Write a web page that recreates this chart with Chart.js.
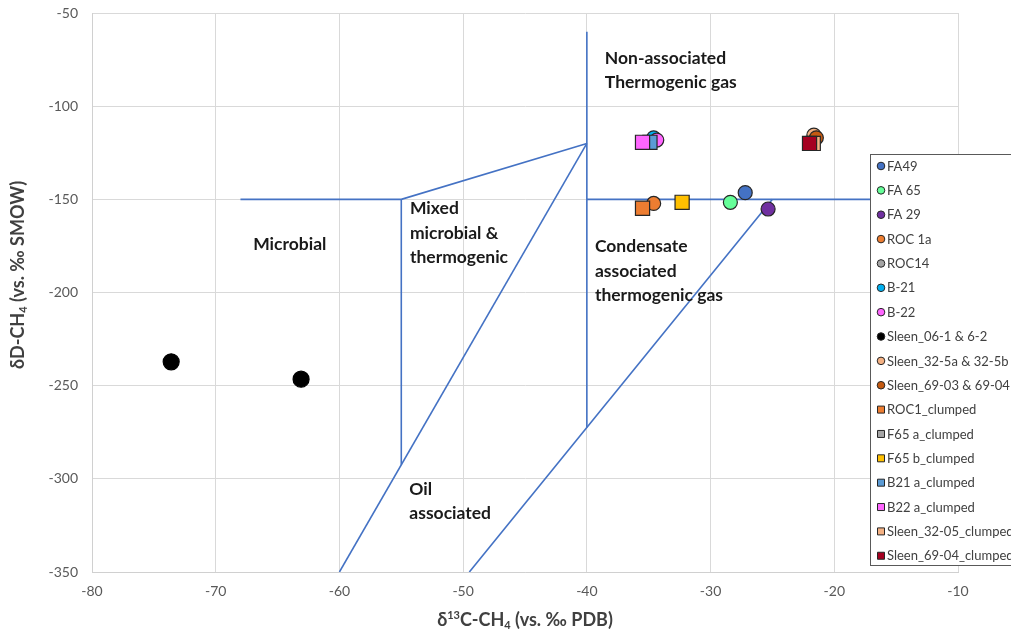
<!DOCTYPE html>
<html>
<head>
<meta charset="utf-8">
<script src="https://cdn.jsdelivr.net/npm/chart.js@4.4.1/dist/chart.umd.min.js"></script>
<style>
html, body { margin: 0; padding: 0; background: #fff; }
#wrap { width: 1011px; height: 635px; }
</style>
</head>
<body>
<div id="wrap"><canvas id="canvas" width="1011" height="635"></canvas></div>
<script>

// sample series: d13C (x) and dD (y) values, one entry per point
const seriesNames = ['FA49', 'FA 65', 'FA 29', 'ROC 1a', 'ROC14', 'B-21', 'B-22',
	'Sleen_06-1 & 6-2', 'Sleen_32-5a & 32-5b', 'Sleen_69-03 & 69-04',
	'ROC1_clumped', 'F65 a_clumped', 'F65 b_clumped', 'B21 a_clumped',
	'B22 a_clumped', 'Sleen_32-05_clumped', 'Sleen_69-04_clumped'];
const seriesD13C = [[-27.2], [-28.4], [-25.35], [-34.6], [], [-34.6], [-34.35],
	[-73.6, -63.1], [-21.65], [-21.45],
	[-35.5], [], [-32.3], [-34.9], [-35.5], [-21.7], [-22.0]];
const seriesDD = [[-146.4], [-151.6], [-155.2], [-152.2], [], [-117], [-118.2],
	[-237.2, -246.5], [-115.5], [-117],
	[-154.8], [], [-151.6], [-119.4], [-119.4], [-120], [-120]];

// field boundaries (x = d13C, y = dD)
const boundaryD13C = [[-68, -55, -40], [-55, -55], [-40, -60], [-40, -40], [-40, -10], [-49.5, -25]];
const boundaryDD = [[-150, -150, -120], [-150, -292.5], [-120, -350], [-60, -272.4], [-150, -150], [-350, -150]];

// field labels: anchor at left baseline of first line
const fieldText = [['Non-associated', 'Thermogenic gas'], ['Microbial'], ['Mixed', 'microbial &', 'thermogenic'],
	['Condensate', 'associated', 'thermogenic gas'], ['Oil', 'associated']];
const fieldD13C = [-38.55, -66.97, -54.3, -39.35, -54.35];
const fieldDD = [-77.4, -177.2, -158.1, -178.4, -308.7];

const xTicks = { min: -80, max: -10, step: 10 };
const yTicks = { min: -350, max: -50, step: 50 };

// styles
const colours = ['#4472C4', '#66FF99', '#7030A0', '#ED7D31', '#A5A5A5', '#00B0F0', '#FF66FF',
	'#000000', '#F4B183', '#C55A11',
	'#ED7D31', '#A5A5A5', '#FFC000', '#5B9BD5', '#FF66FF', '#F4B183', '#A50021'];
const shapes = ['circle', 'circle', 'circle', 'circle', 'circle', 'circle', 'circle',
	'circle', 'circle', 'circle',
	'rect', 'rect', 'rect', 'rect', 'rect', 'rect', 'rect'];

const FONT = 'Lato, "Open Sans", sans-serif';
const LINE = '#4472C4';

var datasets = [];

for (var i = 0; i < boundaryD13C.length; i++) {
	datasets.push({
		label: 'boundary' + i,
		data: boundaryD13C[i].map(function (x, k) { return { x: x, y: boundaryDD[i][k] }; }),
		showLine: true,
		borderColor: LINE,
		borderWidth: 1.6,
		pointRadius: 0,
		fill: false,
		order: 100
	});
}

for (var s = 0; s < seriesNames.length; s++) {
	var black = colours[s] === '#000000';
	datasets.push({
		label: seriesNames[s],
		data: seriesD13C[s].map(function (x, k) { return { x: x, y: seriesDD[s][k] }; }),
		backgroundColor: colours[s],
		borderColor: black ? '#000000' : '#262626',
		borderWidth: 1.2,
		pointStyle: shapes[s],
		pointRadius: shapes[s] === 'rect' ? 10 : (black ? 8 : 7),
		showLine: false,
		order: seriesNames.length - s
	});
}

function drawRich(ctx, parts, cx, cy) {
	var total = 0;
	parts.forEach(function (p) { ctx.font = p.f; p.w = ctx.measureText(p.t).width; total += p.w; });
	var x = cx - total / 2;
	parts.forEach(function (p) {
		ctx.font = p.f;
		ctx.fillText(p.t, x, cy + (p.dy || 0));
		x += p.w;
	});
}

const overlay = {
	id: 'overlay',
	afterDraw: function (chart) {
		var ctx = chart.ctx;
		var xs = chart.scales.x, ys = chart.scales.y;
		ctx.save();

		// field labels
		ctx.fillStyle = '#1a1a1a';
		ctx.font = 'bold 17.5px ' + FONT;
		ctx.textBaseline = 'alphabetic';
		ctx.textAlign = 'left';
		fieldText.forEach(function (lines, i) {
			var px = xs.getPixelForValue(fieldD13C[i]);
			var py = ys.getPixelForValue(fieldDD[i]);
			lines.forEach(function (t, k) { ctx.fillText(t, px, py + k * 24.4); });
		});

		// axis titles
		var bold = 'bold 18px ' + FONT, small = 'bold 11px ' + FONT;
		ctx.fillStyle = '#404040';
		ctx.textBaseline = 'middle';
		drawRich(ctx, [{ t: 'δ', f: bold }, { t: '13', f: small, dy: -5 }, { t: 'C-CH', f: bold },
			{ t: '4', f: small, dy: 5 }, { t: ' (vs. ‰ PDB)', f: bold }], 525, 620);
		ctx.save();
		ctx.translate(18, 275);
		ctx.rotate(-Math.PI / 2);
		drawRich(ctx, [{ t: 'δD-CH', f: bold }, { t: '4', f: small, dy: 5 },
			{ t: ' (vs. ‰ SMOW)', f: bold }], 0, 0);
		ctx.restore();

		// legend box
		ctx.fillStyle = '#ffffff';
		ctx.strokeStyle = '#595959';
		ctx.lineWidth = 1;
		ctx.fillRect(870.5, 154.5, 200, 411);
		ctx.strokeRect(870.5, 154.5, 200, 411);
		ctx.font = '13px ' + FONT;
		ctx.textBaseline = 'middle';
		for (var i = 0; i < seriesNames.length; i++) {
			var y = 166 + i * 24.36;
			ctx.fillStyle = colours[i];
			ctx.strokeStyle = '#262626';
			ctx.beginPath();
			if (shapes[i] === 'rect') {
				ctx.rect(877.5, y - 3.5, 7, 7);
			} else {
				ctx.arc(881, y, 3.8, 0, Math.PI * 2);
			}
			ctx.fill();
			ctx.stroke();
			ctx.fillStyle = '#404040';
			ctx.fillText(seriesNames[i], 887, y + 0.5);
		}
		ctx.restore();
	}
};

var chart_config = {
	type: 'scatter',
	data: { datasets: datasets },
	options: {
		responsive: false,
		animation: false,
		layout: { padding: { top: 13, right: 53, left: 0, bottom: 0 } },
		plugins: { legend: { display: false }, tooltip: { enabled: false } },
		scales: {
			x: {
				type: 'linear',
				min: xTicks.min, max: xTicks.max,
				ticks: { stepSize: xTicks.step, color: '#595959', font: { family: FONT, size: 14 }, padding: 11 },
				grid: { color: '#D9D9D9', drawTicks: false },
				border: { color: '#D0D0D0' },
				afterFit: function (scale) { scale.height = 63; scale.paddingLeft = 0; scale.paddingRight = 0; }
			},
			y: {
				type: 'linear',
				min: yTicks.min, max: yTicks.max,
				ticks: { stepSize: yTicks.step, color: '#595959', font: { family: FONT, size: 14 }, padding: 14 },
				grid: { color: '#D9D9D9', drawTicks: false },
				border: { color: '#D0D0D0' },
				afterFit: function (scale) { scale.width = 92; scale.paddingTop = 0; scale.paddingBottom = 0; }
			}
		}
	},
	plugins: [overlay]
};

var ctx = document.getElementById('canvas').getContext('2d');
window.myChart = new Chart(ctx, chart_config);
</script>
</body>
</html>
